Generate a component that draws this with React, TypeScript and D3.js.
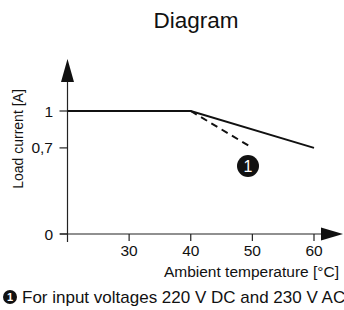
import React from "react";
import * as d3 from "d3";

const solidTemps = [20, 40, 60];
const solidCurrents = [1, 1, 0.7];
const dashedTemps = [40, 50];
const dashedCurrents = [1, 0.7];
const xTicks = [30, 40, 50, 60];
const yTicks = [0, 0.7, 1];
const yTickLabels = ["0", "0,7", "1"];

const width = 344;
const height = 310;
const font = "'Liberation Sans', Arial, sans-serif";

const App = () => {
  const x = d3.scaleLinear().domain([20, 60]).range([67.5, 314]);
  const y = d3.scaleLinear().domain([0, 1]).range([234, 111]);

  const lineGen = d3
    .line<[number, number]>()
    .x((d) => x(d[0]))
    .y((d) => y(d[1]));

  const solid = lineGen(solidTemps.map((t, i) => [t, solidCurrents[i]]));
  const dashed = lineGen(dashedTemps.map((t, i) => [t, dashedCurrents[i]]));

  const x0 = x(20);
  const yAxisY = y(0);

  return (
    <svg width={width} height={height} style={{ position: "absolute", left: 0, top: 0 }}>
      <text x={196} y={28} textAnchor="middle" fontFamily={font} fontSize={22.5} fill="#111">
        Diagram
      </text>

      {/* y axis */}
      <line x1={x0} x2={x0} y1={242} y2={80} stroke="#222" strokeWidth={1.2} />
      <path d={`M${x0},59 L${x0 - 6.5},82 L${x0 + 6.5},82 Z`} fill="#111" />
      {yTicks.map((t, i) => (
        <g key={t}>
          <line x1={x0 - 8} x2={x0} y1={y(t)} y2={y(t)} stroke="#222" strokeWidth={1.2} />
          <text x={53} y={y(t) + 5.5} textAnchor="end" fontFamily={font} fontSize={15.5} fill="#111">
            {yTickLabels[i]}
          </text>
        </g>
      ))}
      <text
        transform={`translate(23,139) rotate(-90)`}
        textAnchor="middle"
        fontFamily={font}
        fontSize={14}
        fill="#111"
      >
        Load current [A]
      </text>

      {/* x axis */}
      <line x1={60} x2={324} y1={yAxisY} y2={yAxisY} stroke="#222" strokeWidth={1.2} />
      <path d={`M343,${yAxisY} L321,${yAxisY - 6.5} L321,${yAxisY + 6.5} Z`} fill="#111" />
      {xTicks.map((t) => (
        <g key={t}>
          <line x1={x(t)} x2={x(t)} y1={yAxisY} y2={yAxisY + 7} stroke="#222" strokeWidth={1.2} />
          <text x={x(t)} y={256} textAnchor="middle" fontFamily={font} fontSize={15.5} fill="#111">
            {t}
          </text>
        </g>
      ))}
      <text x={339} y={277} textAnchor="end" fontFamily={font} fontSize={15.5} fill="#111">
        Ambient temperature [°C]
      </text>

      {/* curves */}
      <path d={solid ?? ""} fill="none" stroke="#111" strokeWidth={2} />
      <path d={dashed ?? ""} fill="none" stroke="#111" strokeWidth={2} strokeDasharray="7,5" />

      <circle cx={248} cy={166} r={11} fill="#111" />
      <text x={248} y={172} textAnchor="middle" fontFamily={font} fontSize={16} fill="#fff">
        1
      </text>

      {/* footnote */}
      <circle cx={10} cy={297} r={7} fill="#111" />
      <text x={10} y={301} textAnchor="middle" fontFamily={font} fontSize={11} fontWeight="bold" fill="#fff">
        1
      </text>
      <text x={22} y={302.5} fontFamily={font} fontSize={17} fill="#111">
        For input voltages 220 V DC and 230 V AC
      </text>
    </svg>
  );
};

export default App;
